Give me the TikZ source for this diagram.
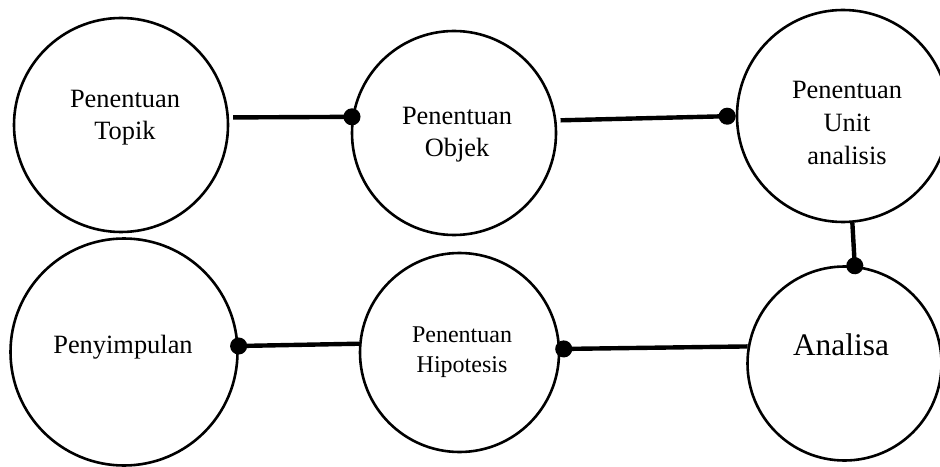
\documentclass[tikz,border=0pt]{standalone}
\usepackage{fontspec}
\setmainfont{Liberation Serif}
\usetikzlibrary{arrows.meta}

\begin{document}
\begin{tikzpicture}[x=0.5pt, y=0.5pt,
  stage/.style={draw, circle, line width=1.3pt, inner sep=0pt},
  txt/.style={align=center, inner sep=0pt, font=\fontsize{13.2}{16}\selectfont},
  link/.style={line width=2.2pt},
  dotend/.style={-{Circle[length=8.5pt]}}]
  \useasboundingbox (0,0) rectangle (940,466);
  % circles, top row then bottom row
  \node[stage, minimum size=107pt] (topik) at (121,341) {};
  \node[stage, minimum size=102pt] (objek) at (454,333) {};
  \node[stage, minimum size=106pt] (unit) at (843,350) {};
  \node[stage, minimum size=113.5pt] (simpul) at (124,114) {};
  \node[stage, minimum size=99.5pt] (hipotesis) at (459.5,113.5) {};
  \node[stage, minimum size=97pt] (analisa) at (844.5,102.5) {};
  % texts
  \node[txt] (tTopik) at (125,348) {Penentuan\\Topik};
  \node[txt] (tObjek) at (457,331) {Penentuan\\Objek};
  \node[txt, font=\fontsize{13.2}{16.5}\selectfont] (tUnit) at (847,343) {Penentuan\\Unit\\analisis};
  \node[txt] (tSimpul) at (123,119) {Penyimpulan};
  \node[txt, font=\fontsize{12}{15}\selectfont] (tHipotesis) at (462,113.5) {Penentuan\\Hipotesis};
  \node[txt, font=\fontsize{15.7}{19}\selectfont] (tAnalisa) at (841,121.7) {Analisa};
  % connectors
  \draw[link, dotend, shorten <=2pt, shorten >=-4.25pt] (topik.4) -- (objek.171);
  \draw[link, dotend, shorten <=2pt] (objek.7) -- (unit.180.5);
  \draw[link, dotend, shorten >=-4.25pt] (unit.275) -- (analisa.84.4);
  \draw[link, dotend, shorten >=-2.5pt] (analisa.170.8) -- (hipotesis.2.6);
  \draw[link, dotend, shorten >=-4.25pt] (hipotesis.175.7) -- (simpul.3.5);
\end{tikzpicture}
\end{document}
